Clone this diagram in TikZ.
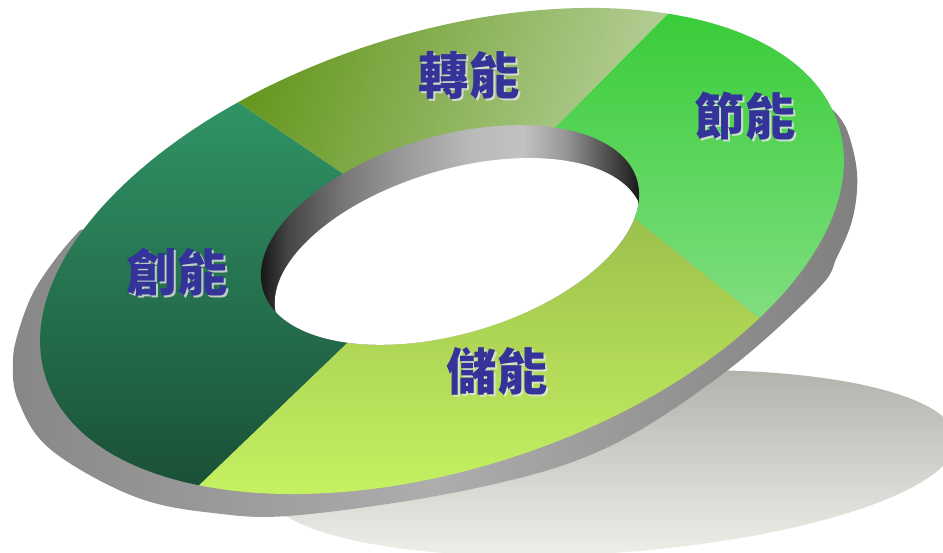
\documentclass[tikz,border=0pt]{standalone}
\usepackage{fontspec}
\newfontfamily\cjk{Noto Sans CJK TC}

\definecolor{chuangTop}{RGB}{48,148,102}
\definecolor{chuangBot}{RGB}{26,80,54}
\definecolor{zhuanTop}{RGB}{102,152,32}
\definecolor{zhuanBot}{RGB}{180,206,150}
\definecolor{jieTop}{RGB}{56,204,56}
\definecolor{jieBot}{RGB}{128,222,128}
\definecolor{chuTop}{RGB}{155,192,75}
\definecolor{chuBot}{RGB}{198,242,98}
\definecolor{labelblue}{RGB}{51,51,153}
\definecolor{shadowTop}{RGB}{180,180,174}
\definecolor{shadowBot}{RGB}{242,242,236}
\definecolor{wallL}{gray}{0.53}
\definecolor{wallM}{gray}{0.68}
\definecolor{wallR}{gray}{0.50}

\pgfdeclarehorizontalshading{innerwall}{100bp}{color(0bp)=(black); color(25bp)=(black);
  color(30bp)=(black!73); color(37bp)=(black!53); color(44bp)=(black!40);
  color(53bp)=(black!27); color(59bp)=(black!24); color(64bp)=(black!40);
  color(69bp)=(black!67); color(73bp)=(black!88); color(75bp)=(black); color(100bp)=(black)}

\tikzset{
  faceOut/.style={rotate around={17.65:(Co)}},
  faceIn/.style={rotate around={16.4:(Ci)}},
  holeIn/.style={rotate around={16.4:(Ch)}}
}

\begin{document}
\begin{tikzpicture}[x=0.3mm, y=-0.3mm,
    labeltext/.style={font=\cjk\bfseries\fontsize{43}{43}\selectfont, text=labelblue, inner sep=0pt},
    labelglow/.style={labeltext, text=white!80!gray, opacity=0.8}]
    \useasboundingbox (0,0) rectangle (943,553);

    % Centres of the ellipses
    \coordinate (Co) at (442,251);
    \coordinate (Ci) at (450,235);
    \coordinate (Ch) at (459,263);

    % Segment borders: inside the hole (H) and far outside (F)
    \coordinate (H1) at (376,196);  \coordinate (F1) at (13,-51);
    \coordinate (H2) at (522,161);  \coordinate (F2) at (892,-212);
    \coordinate (H3) at (601,192);  \coordinate (F3) at (990,502);
    \coordinate (H4) at (391,301);  \coordinate (F4) at (-87,760);
    \coordinate (WL) at (-300,300); \coordinate (WT) at (450,-300);
    \coordinate (WR) at (1200,150); \coordinate (WB) at (450,900);

    % Gradient boxes of the segments
    \coordinate (chuangNW) at (30,95);  \coordinate (chuangSE) at (355,490);
    \coordinate (zhuanNW) at (230,5);   \coordinate (zhuanSE) at (670,180);
    \coordinate (jieNW) at (550,8);     \coordinate (jieSE) at (848,318);
    \coordinate (chuNW) at (195,215);   \coordinate (chuSE) at (760,500);

    % Shadow on the floor
    \shade[top color=shadowTop, bottom color=shadowBot, rotate around={4:(610,463)}]
        (610,463) ellipse [x radius=347, y radius=90];

    % Outer wall of the ring
    \shade[left color=wallL, right color=wallR, middle color=wallM]
        plot[smooth, tension=0.6] coordinates {(80,230) (57,257) (33,293) (18,333) (13,362)
        (18,400) (50,449) (133,496) (213,513) (300,515) (472,489) (604,449) (724,373)
        (817,290) (837,257) (853,217) (857,173) (847,130) (833,110)} -- cycle;

    % Top face, four segments
    \foreach \name/\ha/\fa/\w/\fb/\hb/\ang in {chuang/H4/F4/WL/F1/H1/0, zhuan/H1/F1/WT/F2/H2/70,
        jie/H2/F2/WR/F3/H3/0, chu/H3/F3/WB/F4/H4/0} {
        \begin{scope}
            \clip[faceOut] (Co) ellipse [x radius=416, y radius=218];
            \clip (\ha) -- (\fa) -- (\w) -- (\fb) -- (\hb) -- cycle;
            \shade[top color=\name Top, bottom color=\name Bot, shading angle=\ang]
                (\name NW) rectangle (\name SE);
        \end{scope}
    }

    % Inner wall and hole
    \shade[shading=innerwall, faceIn] (Ci) ellipse [x radius=195, y radius=99];
    \begin{scope}
        \clip[faceIn] (Ci) ellipse [x radius=195, y radius=99];
        \fill[white, holeIn] (Ch) ellipse [x radius=190, y radius=94];
    \end{scope}

    % Labels
    \foreach \name/\x/\y/\txt in {chuang/177/272/創能, zhuan/469/75/轉能, jie/745/116/節能, chu/497/371/儲能} {
        \node[labelglow] (\name-glow) at (\x+2,\y+2) {\txt};
        \node[labeltext] (\name) at (\x,\y) {\txt};
    }
\end{tikzpicture}
\end{document}
